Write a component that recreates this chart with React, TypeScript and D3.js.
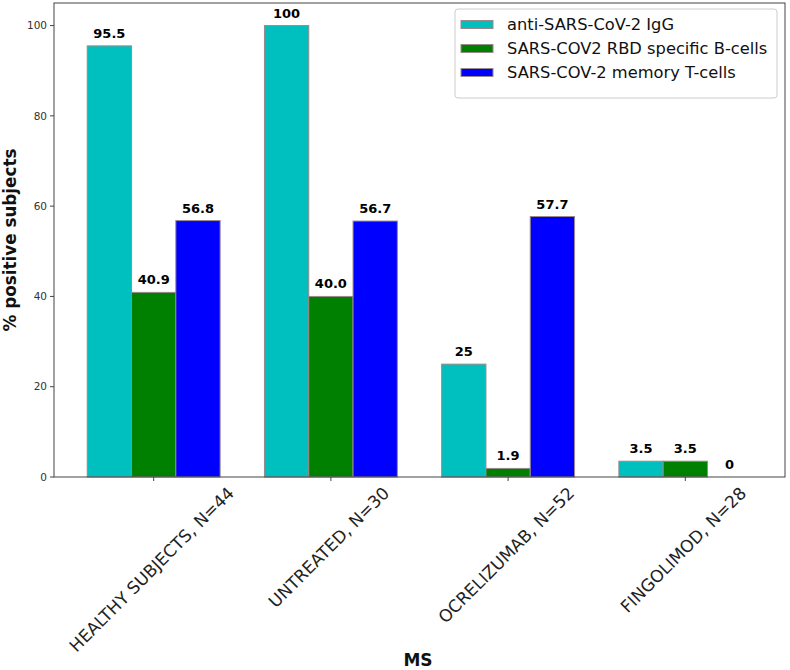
import React from "react";
import * as d3 from "d3";

const categories = ["HEALTHY SUBJECTS, N=44", "UNTREATED, N=30", "OCRELIZUMAB, N=52", "FINGOLIMOD, N=28"];
const seriesNames = ["anti-SARS-CoV-2 IgG", "SARS-COV2 RBD specific B-cells", "SARS-COV-2 memory T-cells"];
const igg = [95.5, 100, 25, 3.5];
const bcells = [40.9, 40.0, 1.9, 3.5];
const tcells = [56.8, 56.7, 57.7, 0];
const valueLabels = [
  ["95.5", "100", "25", "3.5"],
  ["40.9", "40.0", "1.9", "3.5"],
  ["56.8", "56.7", "57.7", "0"],
];
const yTicks = [0, 20, 40, 60, 80, 100];
const colors = ["#00bfbf", "#008000", "#0000ff"];

const W = 790, H = 670;
const left = 54, right = 785, top = 3, bottom = 477;

function measure(text: string, font: string): number {
  const c = document.createElement("canvas").getContext("2d");
  if (!c) return text.length * 10;
  c.font = font;
  return c.measureText(text).width;
}

export default function App() {
  const series = [igg, bcells, tcells];
  const barW = 0.25;
  const x = d3.scaleLinear().domain([-0.5625, 3.5625]).range([left, right]);
  const y = d3.scaleLinear().domain([0, 105]).range([bottom, top]);
  const font = "DejaVu Sans, sans-serif";
  const xtFs = 17;
  const bw = x(barW) - x(0);

  return (
    <svg width={W} height={H} style={{ position: "absolute", left: 0, top: 0 }} fontFamily={font}>
      <rect x={0} y={0} width={W} height={H} fill="#fff" />
      {series.map((vals, si) =>
        vals.map((v, ci) => {
          const cx = x(ci + (si - 1) * barW);
          return (
            <g key={`b${si}-${ci}`}>
              {v > 0 && (
                <rect
                  x={cx - bw / 2}
                  y={y(v)}
                  width={bw}
                  height={y(0) - y(v)}
                  fill={colors[si]}
                  stroke="#9a8a8a"
                  strokeWidth={1}
                />
              )}
              <text
                x={cx}
                y={y(v) - 8}
                textAnchor="middle"
                fontSize={13}
                fontWeight="bold"
                fill="#000"
              >
                {valueLabels[si][ci]}
              </text>
            </g>
          );
        })
      )}
      {/* spines */}
      <rect x={left} y={top} width={right - left} height={bottom - top} fill="none" stroke="#444" strokeWidth={1} />
      {/* y ticks */}
      {yTicks.map((t) => (
        <g key={`yt${t}`}>
          <line x1={left - 4} x2={left} y1={y(t)} y2={y(t)} stroke="#444" />
          <text x={left - 7} y={y(t)} dy="0.35em" textAnchor="end" fontSize={10.5} fill="#333">
            {t}
          </text>
        </g>
      ))}
      {/* x ticks */}
      {categories.map((c, i) => {
        const tx = x(i);
        const L = measure(c, `${xtFs}px "DejaVu Sans"`);
        const h = xtFs * 1.0;
        const half = (L + h) / (2 * Math.SQRT2);
        const cy = 484 + half;
        return (
          <g key={`xt${i}`}>
            <line x1={tx} x2={tx} y1={bottom} y2={bottom + 4} stroke="#444" />
            <text
              transform={`translate(${tx - 2},${cy}) rotate(-45)`}
              textAnchor="middle"
              dominantBaseline="central"
              fontSize={xtFs}
              fill="#222"
            >
              {c}
            </text>
          </g>
        );
      })}
      {/* axis labels */}
      <text x={418} y={666} textAnchor="middle" fontSize={17} fontWeight="bold" fill="#111">
        MS
      </text>
      <text
        transform={`translate(16,${(top + bottom) / 2}) rotate(-90)`}
        textAnchor="middle"
        fontSize={16.8}
        fontWeight="bold"
        fill="#111"
      >
        % positive subjects
      </text>
      {/* legend */}
      <g>
        <rect x={455} y={9} width={322} height={89} rx={3} fill="#fff" fillOpacity={0.85} stroke="#cccccc" />
        {seriesNames.map((n, i) => (
          <g key={`lg${i}`} transform={`translate(0,${24.5 + i * 24})`}>
            <rect x={461} y={-4} width={32} height={8} fill={colors[i]} stroke="#9a8a8a" />
            <text x={507} y={0} dy="0.35em" fontSize={16.3} fill="#111">
              {n}
            </text>
          </g>
        ))}
      </g>
    </svg>
  );
}
